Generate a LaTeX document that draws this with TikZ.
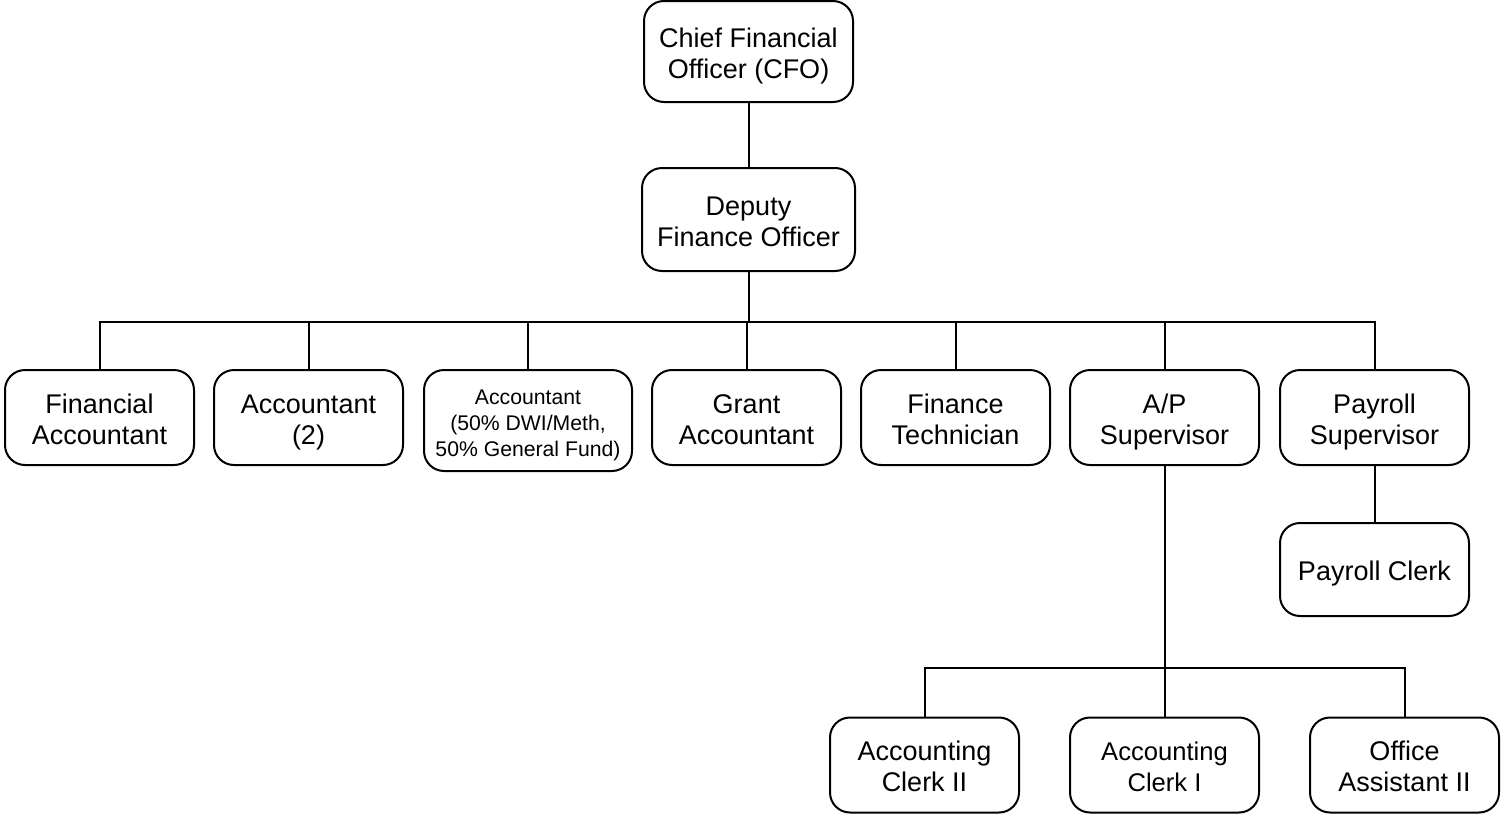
\documentclass[tikz,border=0pt]{standalone}
\usepackage{fontspec}
\setmainfont{Liberation Sans}
% fixed height for the first line and depth for the last line of a label
\newcommand{\hs}{\rule{0pt}{\dimexpr0.7\baselineskip+5pt\relax}}
\newcommand{\ds}{\rule[-0.3\baselineskip]{0pt}{0pt}}
\begin{document}
\begin{tikzpicture}[x=0.5pt,y=-0.5pt,
  box/.style={draw,line width=1pt,rounded corners=10pt,inner sep=0pt,
    minimum width=94.5pt,minimum height=47.5pt,align=center,
    font=\fontsize{13.5}{15.5}\selectfont},
  link/.style={line width=1pt}]
\useasboundingbox (0,0) rectangle (1501,814);

% top of the chart
\node[box,minimum width=104.5pt,minimum height=50.5pt] (cfo) at (748.5,51.5) {\hs Chief Financial\\Officer (CFO)\ds};
\node[box,minimum width=106.5pt,minimum height=51.5pt] (dep) at (748.5,219.5) {\hs Deputy\\Finance Officer\ds};

% second row
\node[box] (fa) at (99.5,417.5) {\hs Financial\\Accountant\ds};
\node[box] (acc) at (308.5,417.5) {\hs Accountant\\(2)\ds};
\node[box,minimum width=104pt,minimum height=50.5pt,font=\fontsize{10.6}{13}\selectfont] (accdwi) at (528,420.5)
  {\hs Accountant\\(50\% DWI/Meth,\\50\% General Fund)\ds};
\node[box] (ga) at (746.5,417.5) {\hs Grant\\Accountant\ds};
\node[box] (ft) at (955.5,417.5) {\hs Finance\\Technician\ds};
\node[box] (ap) at (1164.5,417.5) {\hs A/P\\Supervisor\ds};
\node[box] (ps) at (1374.5,417.5) {\hs Payroll\\Supervisor\ds};

% payroll branch
\node[box,minimum height=46.5pt] (pc) at (1374.5,569.5) {\hs Payroll Clerk\ds};

% A/P branch
\node[box] (ac2) at (924.5,765) {\hs Accounting\\Clerk II\ds};
\node[box,font=\fontsize{12.8}{15.5}\selectfont] (ac1) at (1164.5,765) {\hs Accounting\\Clerk I\ds};
\node[box] (oa) at (1404.5,765) {\hs Office\\Assistant II\ds};

% connectors
\coordinate (bus) at (748.5,322);
\coordinate (apbus) at (1164.5,668);
\draw[link] (cfo.south) -- (dep.north);
\draw[link] (dep.south) -- (bus);
\foreach \n in {fa,acc,accdwi,ga,ft,ap,ps}
  \draw[link] (\n.north) |- (bus);
\draw[link] (ps.south) -- (pc.north);
\draw[link] (ap.south) -- (apbus);
\foreach \n in {ac2,ac1,oa}
  \draw[link] (\n.north) |- (apbus);
\end{tikzpicture}
\end{document}
